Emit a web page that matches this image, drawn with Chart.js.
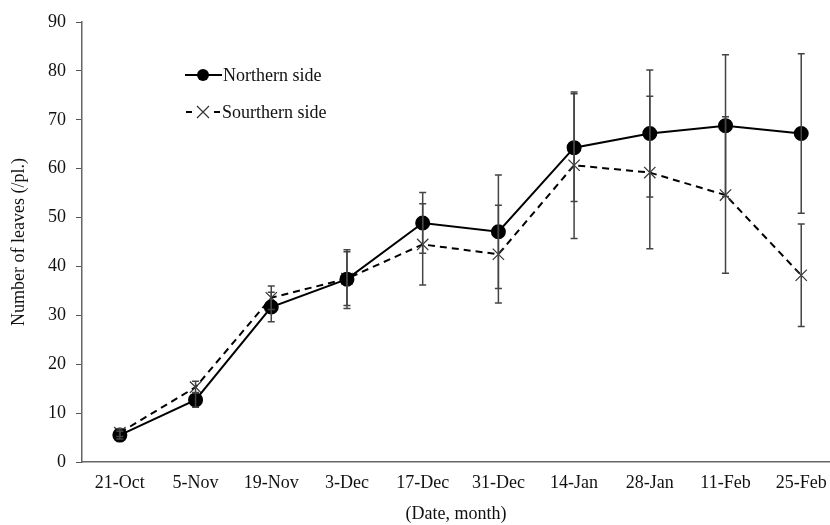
<!DOCTYPE html>
<html>
<head>
<meta charset="utf-8">
<script src="https://cdn.jsdelivr.net/npm/chart.js@4"></script>
<style>
  html, body { margin: 0; padding: 0; background: #fff; overflow: hidden; }
  #wrap { width: 830px; height: 525px; }
</style>
</head>
<body>
<div id="wrap"><canvas id="leaf_chart" width="830" height="525"></canvas></div>
<script>
var dates = ['21-Oct', '5-Nov', '19-Nov', '3-Dec', '17-Dec', '31-Dec', '14-Jan', '28-Jan', '11-Feb', '25-Feb'];
var northern = [5.5, 12.7, 31.7, 37.4, 48.9, 47.1, 64.3, 67.2, 68.8, 67.2];
var northernErr = [0.8, 1.5, 3.0, 6.0, 6.2, 11.6, 11.0, 13.0, 14.5, 16.3];
var southern = [6.0, 15.3, 33.6, 37.5, 44.5, 42.5, 60.7, 59.2, 54.6, 38.2];
var southernErr = [0.8, 1.2, 2.4, 5.5, 8.3, 10.0, 15.0, 15.6, 16.0, 10.5];
var yTicks = [0, 10, 20, 30, 40, 50, 60, 70, 80, 90];

var serif = "'Liberation Serif', 'Times New Roman', serif";

function pts(values) {
    return values.map(function (v, i) { return { x: i, y: v }; });
}

// error bars drawn through the chart's own scales
var errorBars = {
    id: 'errorBars',
    afterDatasetsDraw: function (chart) {
        var ctx = chart.ctx;
        var xs = chart.scales.x, ys = chart.scales.y;
        var sets = [[northern, northernErr], [southern, southernErr]];
        ctx.save();
        ctx.strokeStyle = '#444';
        ctx.lineWidth = 1.5;
        sets.forEach(function (s) {
            s[0].forEach(function (v, i) {
                var px = xs.getPixelForValue(i);
                var top = ys.getPixelForValue(v + s[1][i]);
                var bot = ys.getPixelForValue(v - s[1][i]);
                ctx.beginPath();
                ctx.moveTo(px, top); ctx.lineTo(px, bot);
                ctx.moveTo(px - 3.5, top); ctx.lineTo(px + 3.5, top);
                ctx.moveTo(px - 3.5, bot); ctx.lineTo(px + 3.5, bot);
                ctx.stroke();
            });
        });
        ctx.restore();
    }
};

// legend inside the plot, line + marker like the original
var insideLegend = {
    id: 'insideLegend',
    afterDraw: function (chart) {
        var ctx = chart.ctx;
        ctx.save();
        ctx.font = '18px ' + serif;
        ctx.textBaseline = 'middle';

        ctx.strokeStyle = '#000';
        ctx.lineWidth = 2;
        ctx.beginPath();
        ctx.moveTo(185, 75); ctx.lineTo(222, 75);
        ctx.stroke();
        ctx.beginPath();
        ctx.arc(203, 75, 6, 0, Math.PI * 2);
        ctx.fillStyle = '#000';
        ctx.fill();
        ctx.fillStyle = '#111';
        ctx.fillText('Northern side', 223, 76);

        ctx.setLineDash([6, 4]);
        ctx.beginPath();
        ctx.moveTo(186, 112); ctx.lineTo(192, 112);
        ctx.moveTo(214, 112); ctx.lineTo(221, 112);
        ctx.stroke();
        ctx.setLineDash([]);
        ctx.strokeStyle = '#333';
        ctx.lineWidth = 1.2;
        ctx.beginPath();
        ctx.moveTo(197, 106); ctx.lineTo(209, 118);
        ctx.moveTo(209, 106); ctx.lineTo(197, 118);
        ctx.stroke();
        ctx.fillText('Sourthern side', 222, 113);
        ctx.restore();
    }
};

var ctx = document.getElementById('leaf_chart').getContext('2d');
var myChart = new Chart(ctx, {
    type: 'line',
    data: {
        datasets: [{
            label: 'Northern side',
            data: pts(northern),
            borderColor: '#000',
            borderWidth: 2,
            backgroundColor: '#000',
            pointStyle: 'circle',
            pointRadius: 6.5,
            pointBackgroundColor: '#000',
            pointBorderColor: '#000',
            tension: 0
        }, {
            label: 'Sourthern side',
            data: pts(southern),
            borderColor: '#000',
            borderWidth: 2,
            borderDash: [7, 5],
            pointStyle: 'crossRot',
            pointRadius: 8,
            pointBorderWidth: 1.2,
            pointBorderColor: '#333',
            tension: 0
        }]
    },
    options: {
        responsive: false,
        animation: false,
        layout: { autoPadding: false, padding: { top: 22, right: 0, left: 0, bottom: 0 } },
        plugins: {
            legend: { display: false },
            tooltip: { enabled: false },
            title: { display: false }
        },
        scales: {
            x: {
                type: 'linear',
                min: -0.5,
                max: 9.38,
                afterBuildTicks: function (axis) {
                    axis.ticks = dates.map(function (d, i) { return { value: i }; });
                },
                afterFit: function (axis) {
                    axis.height = 63;
                    axis.paddingLeft = 0;
                    axis.paddingRight = 0;
                },
                grid: { display: false, drawTicks: false },
                border: { color: '#666', width: 1.5 },
                ticks: {
                    padding: 10,
                    maxRotation: 0,
                    autoSkip: false,
                    color: '#111',
                    font: { family: serif, size: 18 },
                    callback: function (v) { return dates[v]; }
                },
                title: {
                    display: true,
                    text: '(Date, month)',
                    color: '#111',
                    font: { family: serif, size: 18 },
                    padding: { top: 0, bottom: 0 }
                }
            },
            y: {
                min: 0,
                max: 90,
                afterBuildTicks: function (axis) {
                    axis.ticks = yTicks.map(function (v) { return { value: v }; });
                },
                afterFit: function (axis) {
                    axis.width = 82;
                    axis.paddingTop = 0;
                    axis.paddingBottom = 0;
                },
                grid: { drawOnChartArea: false, drawTicks: true, tickLength: 6, color: '#555' },
                border: { color: '#666', width: 1.5 },
                ticks: {
                    padding: 10,
                    color: '#111',
                    font: { family: serif, size: 18 }
                },
                title: {
                    display: true,
                    text: 'Number of leaves (/pl.)',
                    color: '#111',
                    font: { family: serif, size: 18 },
                    padding: { top: 8, bottom: 0 }
                }
            }
        }
    },
    plugins: [errorBars, insideLegend]
});
</script>
</body>
</html>
